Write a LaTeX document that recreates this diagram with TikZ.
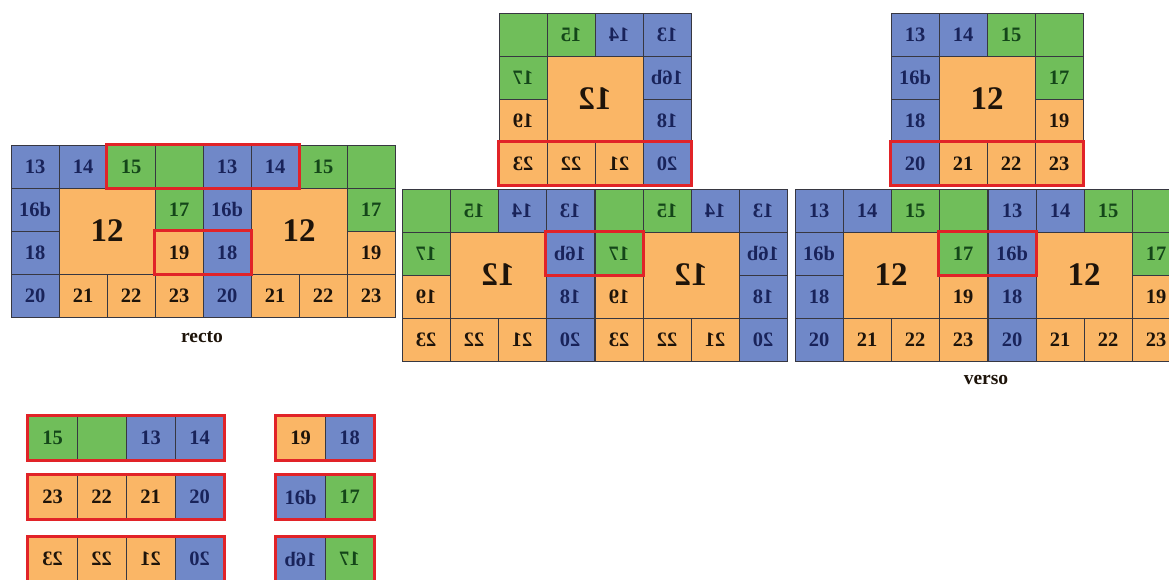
\documentclass[tikz,border=0pt]{standalone}
\usepackage{fontspec}
\setmainfont{Liberation Serif}
\usepackage{graphicx}
\usetikzlibrary{fit}
\definecolor{LeafBlue}{RGB}{112,136,200}
\definecolor{LeafGreen}{RGB}{112,190,90}
\definecolor{LeafOrange}{RGB}{250,182,102}
\definecolor{InkBlue}{RGB}{25,35,90}
\definecolor{InkGreen}{RGB}{20,70,25}
\definecolor{InkBrown}{RGB}{30,20,10}
\definecolor{MarkRed}{RGB}{225,35,40}
\definecolor{CellLine}{RGB}{55,55,65}

% one 4x4 block of leaves at top-left (#2,#3); #4 = 1 as printed, -1 mirrored
\newcommand{\leafblock}[4]{%
  \node[cell,bluecell]   (#1-13)  at ({#2+96+#4*(-72)},{#3+21.5})  {\scalebox{#4}[1]{13}};
  \node[cell,bluecell]   (#1-14)  at ({#2+96+#4*(-24)},{#3+21.5})  {\scalebox{#4}[1]{14}};
  \node[cell,greencell]  (#1-15)  at ({#2+96+#4*24},{#3+21.5})     {\scalebox{#4}[1]{15}};
  \node[cell,greencell]  (#1-e)   at ({#2+96+#4*72},{#3+21.5})     {};
  \node[cell,bluecell]   (#1-16b) at ({#2+96+#4*(-72)},{#3+64.5})  {\scalebox{#4}[1]{16b}};
  \node[cell,orangecell,bigcell] (#1-12) at ({#2+96},{#3+86})      {\scalebox{#4}[1]{12}};
  \node[cell,greencell]  (#1-17)  at ({#2+96+#4*72},{#3+64.5})     {\scalebox{#4}[1]{17}};
  \node[cell,bluecell]   (#1-18)  at ({#2+96+#4*(-72)},{#3+107.5}) {\scalebox{#4}[1]{18}};
  \node[cell,orangecell] (#1-19)  at ({#2+96+#4*72},{#3+107.5})    {\scalebox{#4}[1]{19}};
  \node[cell,bluecell]   (#1-20)  at ({#2+96+#4*(-72)},{#3+150.5}) {\scalebox{#4}[1]{20}};
  \node[cell,orangecell] (#1-21)  at ({#2+96+#4*(-24)},{#3+150.5}) {\scalebox{#4}[1]{21}};
  \node[cell,orangecell] (#1-22)  at ({#2+96+#4*24},{#3+150.5})    {\scalebox{#4}[1]{22}};
  \node[cell,orangecell] (#1-23)  at ({#2+96+#4*72},{#3+150.5})    {\scalebox{#4}[1]{23}};
}

\begin{document}
\begin{tikzpicture}[
    x=1pt, y=-1pt,
    cell/.style={
        draw=CellLine,
        line width=0.7pt,
        minimum width=48,
        minimum height=43,
        inner sep=0pt,
        font=\fontsize{20.5}{20.5}\selectfont\bfseries
    },
    bluecell/.style={fill=LeafBlue, text=InkBlue},
    greencell/.style={fill=LeafGreen, text=InkGreen},
    orangecell/.style={fill=LeafOrange, text=InkBrown},
    bigcell/.style={minimum width=96, minimum height=86, font=\fontsize{33}{33}\selectfont\bfseries},
    piece/.style={minimum width=49, minimum height=45},
    redframe/.style={draw=MarkRed, line width=3pt, inner sep=0pt},
    caption/.style={font=\fontsize{19.5}{19.5}\selectfont\bfseries, text=InkBrown}
]
\useasboundingbox[fill=white] (0,0) rectangle (1169,580);
\clip (0,0) rectangle (1169,580);

% recto
\leafblock{ra}{11}{145}{1}
\leafblock{rb}{203}{145}{1}
\node[redframe, fit=(ra-15)(rb-14)] (rectotop) {};
\node[redframe, fit=(ra-19)(rb-18)] (rectomid) {};
\node[caption] (rectolabel) at (202,337) {recto};

% mirrored sheet
\leafblock{mt}{499}{13}{-1}
\leafblock{ma}{402}{189}{-1}
\leafblock{mb}{595}{189}{-1}
\node[redframe, fit=(mt-23)(mt-20)] (mirrortop) {};
\node[redframe, fit=(ma-16b)(mb-17)] (mirrormid) {};

% verso
\leafblock{vt}{891}{13}{1}
\leafblock{va}{795}{189}{1}
\leafblock{vb}{988}{189}{1}
\node[redframe, fit=(vt-20)(vt-23)] (versotop) {};
\node[redframe, fit=(va-17)(vb-16b)] (versomid) {};
\node[caption] (versolabel) at (986,380) {verso};

% cut-out strips
\node[cell,piece,greencell] (pa-15) at (52.5,438) {15};
\node[cell,piece,greencell] (pa-e)  at (101.5,438) {};
\node[cell,piece,bluecell]  (pa-13) at (150.5,438) {13};
\node[cell,piece,bluecell]  (pa-14) at (199.5,438) {14};
\node[redframe, fit=(pa-15)(pa-14)] (stripa) {};

\node[cell,piece,orangecell] (pb-23) at (52.5,497) {23};
\node[cell,piece,orangecell] (pb-22) at (101.5,497) {22};
\node[cell,piece,orangecell] (pb-21) at (150.5,497) {21};
\node[cell,piece,bluecell]   (pb-20) at (199.5,497) {20};
\node[redframe, fit=(pb-23)(pb-20)] (stripb) {};

\node[cell,piece,orangecell] (pc-23) at (52.5,559) {\reflectbox{23}};
\node[cell,piece,orangecell] (pc-22) at (101.5,559) {\reflectbox{22}};
\node[cell,piece,orangecell] (pc-21) at (150.5,559) {\reflectbox{21}};
\node[cell,piece,bluecell]   (pc-20) at (199.5,559) {\reflectbox{20}};
\node[redframe, fit=(pc-23)(pc-20)] (stripc) {};

\node[cell,piece,orangecell] (pd-19) at (300.5,438) {19};
\node[cell,piece,bluecell]   (pd-18) at (349.5,438) {18};
\node[redframe, fit=(pd-19)(pd-18)] (stripd) {};

\node[cell,piece,bluecell]  (pe-16b) at (300.5,497) {16b};
\node[cell,piece,greencell] (pe-17)  at (349.5,497) {17};
\node[redframe, fit=(pe-16b)(pe-17)] (stripe) {};

\node[cell,piece,bluecell]  (pf-16b) at (300.5,559) {\reflectbox{16b}};
\node[cell,piece,greencell] (pf-17)  at (349.5,559) {\reflectbox{17}};
\node[redframe, fit=(pf-16b)(pf-17)] (stripf) {};

\end{tikzpicture}
\end{document}
